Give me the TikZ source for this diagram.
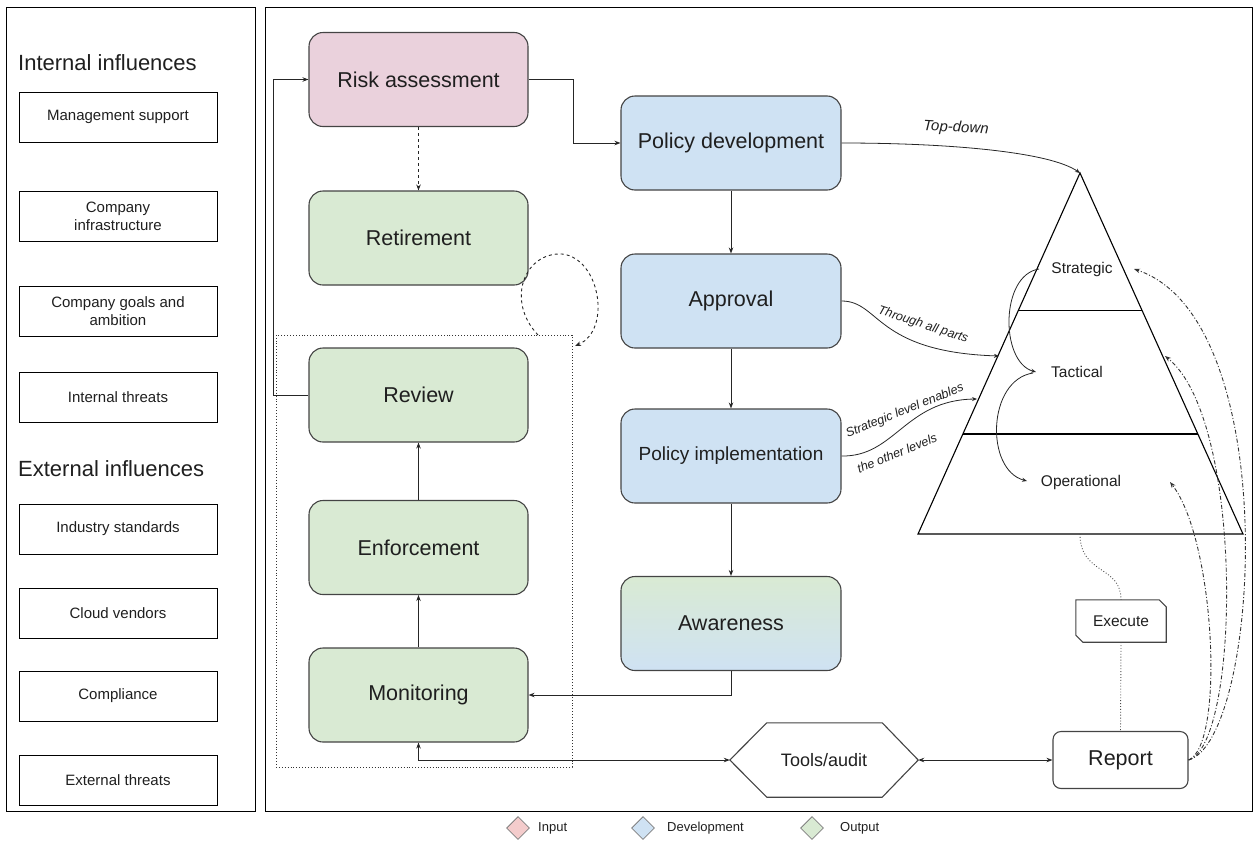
\documentclass[tikz,border=0pt]{standalone}
\usepackage{fontspec}
\setmainfont{Liberation Sans}
\usetikzlibrary{arrows.meta,shapes.geometric,calc}
\definecolor{inpink}{HTML}{EAD1DC}
\definecolor{devblue}{HTML}{CFE2F3}
\definecolor{outgreen}{HTML}{D9EAD3}
\definecolor{legpink}{HTML}{F4CCCC}
\definecolor{edgegray}{HTML}{444444}
\newcommand{\fs}[1]{\fontsize{#1pt}{\dimexpr #1pt*6/5\relax}\selectfont}
\begin{document}
\begin{tikzpicture}[x=1pt,y=-1pt,
  every node/.style={text=black!88},
  panel/.style={draw=black, line width=1pt},
  stage/.style={draw=edgegray, line width=1.1pt, rounded corners=14pt,
    minimum width=219pt, minimum height=94pt, inner sep=0pt, font=\fs{21.5}},
  inbox/.style={stage, fill=inpink},
  devbox/.style={stage, fill=devblue, minimum width=220pt},
  outbox/.style={stage, fill=outgreen},
  infl/.style={draw=black, line width=0.9pt, minimum width=198pt, minimum height=50pt,
    inner sep=0pt, align=center, font=\fs{15}},
  heading/.style={anchor=west, font=\fs{22}, inner sep=0pt},
  flow/.style={draw=black!85, line width=0.9pt, -{Stealth[length=6pt,width=4.5pt]}},
  twoway/.style={flow, {Stealth[length=6pt,width=4.5pt]}-{Stealth[length=6pt,width=4.5pt]}},
  thin/.style={draw=black!85, line width=0.8pt, -{Stealth[length=5pt,width=4pt]}},
  dashdot/.style={draw=black!80, line width=0.9pt,
    dash pattern=on 4pt off 2pt on 1pt off 2pt, -{Stealth[length=6pt,width=4.5pt]}},
  level/.style={font=\fs{15.5}, inner sep=1pt},
  edgelabel/.style={font=\itshape\fs{12.5}, inner sep=0pt},
  legend/.style={diamond, aspect=1, draw=black!50, line width=0.8pt,
    minimum width=23pt, minimum height=23pt, inner sep=0pt},
  legtext/.style={anchor=west, font=\fs{13}, inner sep=0pt}
]
\useasboundingbox (0,0) rectangle (1258,841);

% ---------- panels ----------
\draw[panel] (6,7) rectangle (255,811);
\draw[panel] (265,7) rectangle (1252,811);

% ---------- influences ----------
\node[heading] (inthead) at (18,63) {Internal influences};
\node[infl] (mgmt)  at (118,117) {Management support};
\node[infl] (infra) at (118,216) {Company\\infrastructure};
\node[infl] (goals) at (118,311) {Company goals and\\ambition};
\node[infl] (ithr)  at (118,397) {Internal threats};
\node[heading] (exthead) at (18,469) {External influences};
\node[infl] (indus) at (118,529) {Industry standards};
\node[infl] (cloud) at (118,613) {Cloud vendors};
\node[infl] (compl) at (118,696) {Compliance};
\node[infl] (ethr)  at (118,780) {External threats};

% ---------- lifecycle stages ----------
\node[inbox]  (risk)    at (418.5,79.5) {Risk assessment};
\node[outbox] (retire)  at (418.5,238)  {Retirement};
\node[outbox] (review)  at (418.5,395)  {Review};
\node[outbox] (enforce) at (418.5,547.5){Enforcement};
\node[outbox] (monit)   at (418.5,695)  {Monitoring};

\node[devbox] (poldev)  at (731,143)   {Policy development};
\node[devbox] (approve) at (731,301)   {Approval};
\node[devbox, font=\fs{19}] (polimp) at (731,456) {Policy implementation};
\node[stage, minimum width=220pt, top color=outgreen, bottom color=devblue] (aware) at (731,623.5) {Awareness};

% dotted group around the output stages
\node[draw=black!80, dotted, line width=0.9pt, minimum width=296pt, minimum height=432pt,
  inner sep=0pt] (loopgrp) at (424,551) {};

% ---------- tools, report, execute ----------
\node[minimum width=188pt, minimum height=74pt, inner sep=0pt, font=\fs{18}] (tools) at (824,760) {Tools/audit};
\draw[draw=edgegray, line width=1.1pt]
  (tools.west) -- ($(tools.north west)+(37,0)$) -- ($(tools.north east)+(-36,0)$)
  -- (tools.east) -- ($(tools.south east)+(-36,0)$) -- ($(tools.south west)+(37,0)$) -- cycle;

\node[draw=edgegray, line width=1.1pt, rounded corners=8pt, minimum width=135pt,
  minimum height=57pt, inner sep=0pt, font=\fs{21.5}] (report) at (1120.5,760) {Report};

\node[minimum width=90pt, minimum height=42pt, inner sep=0pt, font=\fs{15.5}] (exec) at (1121,621) {Execute};
\draw[draw=edgegray, line width=1.1pt]
  (exec.north west) -- ($(exec.north east)+(-7,0)$) -- ($(exec.north east)+(0,7)$)
  -- (exec.south east) -- ($(exec.south west)+(7,0)$) -- ($(exec.south west)+(0,-7)$) -- cycle;

% ---------- pyramid ----------
\coordinate (apex) at (1080,173);
\coordinate (baseL) at (918,534);
\coordinate (baseR) at (1243,534);
\coordinate (baseM) at (1080,534);
\draw[line width=1.1pt, line join=miter] (apex) -- (baseR) -- (baseL) -- cycle;
\draw[line width=1.1pt] ($(apex)!0.382!(baseL)$) -- ($(apex)!0.382!(baseR)$);
\draw[line width=1.1pt] ($(apex)!0.723!(baseL)$) -- ($(apex)!0.723!(baseR)$);
\node[level] (strat) at (1082,269) {Strategic};
\node[level] (tact)  at (1077,372) {Tactical};
\node[level] (oper)  at (1081,482) {Operational};

\coordinate (stratL) at (1039,269);
\coordinate (stratR) at (1134,269);
\coordinate (tactL)  at (1036,372);
\coordinate (tactR)  at (1165,356);
\coordinate (operL)  at (1027,481);
\coordinate (operR)  at (1170,482);
\coordinate (allparts) at (999,356);
\coordinate (enables)  at (977,399);

% cascade between levels
\draw[thin] (stratL) .. controls (1000,275) and (1000,362) .. (tactL);
\draw[thin] (1033,373) .. controls (987,380) and (985,470) .. (operL);

% ---------- flows ----------
\draw[flow] (risk.east) -- (573,79.5) |- (poldev.west);
\draw[flow, dashed] (risk.south) -- (retire.north);
\draw[flow] (review.west) -- (273,395) |- (risk.west);
\draw[flow] (monit.north) -- (enforce.south);
\draw[flow] (enforce.north) -- (review.south);
\draw[flow] (poldev.south) -- (approve.north);
\draw[flow] (approve.south) -- (polimp.north);
\draw[flow] (polimp.south) -- (aware.north);
\draw[flow] (aware.south) |- (monit.east);
\draw[twoway] (monit.south) |- (tools.west);
\draw[twoway] (tools.east) -- (report.west);

% recurring review loop
\draw[flow, dashed] (538,335) .. controls (505,300) and (525,252) .. (562,254)
  .. controls (600,258) and (612,330) .. (575,346);

% policy to pyramid
\draw[thin] (poldev.east) .. controls (950,143) and (1050,152) .. (apex);
\node[edgelabel, font=\itshape\fs{15}, rotate=-3] (tdlabel) at (956,128) {Top-down};
\draw[thin] (approve.east) .. controls (880,301) and (875,352) .. (allparts);
\node[edgelabel, rotate=-18] (aplabel) at (923,325) {Through all parts};
\draw[thin] (polimp.east) .. controls (895,457) and (905,400) .. (enables);
\node[edgelabel, rotate=22] (enlabel) at (905,411) {Strategic level enables};
\node[edgelabel, rotate=22] (otlabel) at (897,453) {the other levels};

% execution and reporting
\draw[draw=black!70, dotted, line width=0.9pt] (baseM) .. controls (1080,575) and (1121,565) .. (exec.north);
\draw[draw=black!70, dotted, line width=0.9pt] (exec.south) -- (report.north);
\draw[dashdot] (report.east) .. controls (1260,740) and (1285,320) .. (stratR);
\draw[dashdot] (report.east) .. controls (1240,745) and (1245,420) .. (tactR);
\draw[dashdot] (report.east) .. controls (1225,745) and (1215,540) .. (operR);

% ---------- legend ----------
\node[legend, fill=legpink] (leginput) at (518,828) {};
\node[legtext] (legintext) at (538,828) {Input};
\node[legend, fill=devblue] (legdev) at (643,828) {};
\node[legtext] (legdevtext) at (667,828) {Development};
\node[legend, fill=outgreen] (legout) at (812,828) {};
\node[legtext] (legouttext) at (840,828) {Output};
\end{tikzpicture}
\end{document}
